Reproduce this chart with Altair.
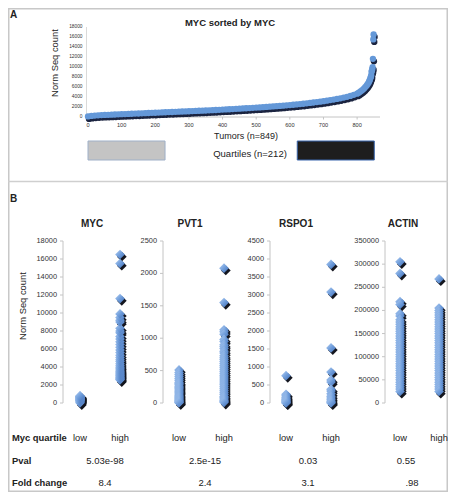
import altair as alt
import pandas as pd

FONT = "Liberation Sans"
W, H = 440, 484
OX, OY = 8, 8


def px(rx):
    return rx - OX


def py(ry):
    return ry - OY


# ---------------- data ----------------
# Panel A: MYC normalised counts, tumours sorted by MYC (sampled ranks)
tumor_rank = [0, 10, 20, 30, 40, 50, 60, 70, 80, 90,
              100, 110, 120, 130, 140, 150, 160, 170, 180, 190,
              200, 210, 220, 230, 240, 250, 260, 270, 280, 290,
              300, 310, 320, 330, 340, 350, 360, 370, 380, 390,
              400, 410, 420, 430, 440, 450, 460, 470, 480, 490,
              500, 510, 520, 530, 540, 550, 560, 570, 580, 590,
              600, 610, 620, 630, 640, 650, 660, 670, 680, 690,
              700, 710, 720, 730, 740, 750, 760, 770, 780, 790,
              800, 805, 810, 815, 820, 824, 828, 831, 834, 836,
              838, 840, 841, 842, 843, 844, 845, 846, 847, 848, 849]
myc_sorted = [20, 120, 190, 240, 280, 310, 340, 370, 400, 430,
              460, 490, 520, 550, 580, 610, 640, 670, 700, 730,
              760, 790, 820, 850, 880, 910, 940, 970, 1000, 1030,
              1060, 1090, 1120, 1150, 1180, 1210, 1240, 1280, 1310, 1350,
              1390, 1420, 1460, 1500, 1540, 1580, 1620, 1660, 1700, 1740,
              1790, 1830, 1880, 1920, 1970, 2020, 2070, 2120, 2180, 2240,
              2300, 2360, 2430, 2500, 2570, 2650, 2730, 2810, 2900, 2990,
              3090, 3190, 3300, 3410, 3530, 3660, 3800, 3960, 4140, 4350,
              4600, 4800, 5050, 5300, 5600, 5900, 6200, 6500, 6800, 7100,
              7400, 7800, 8000, 8300, 9000, 9200, 9500, 9900, 11600, 15500, 16500]
x_ticks_A = [0, 100, 200, 300, 400, 500, 600, 700, 800]
y_ticks_A = [0, 2000, 4000, 6000, 8000, 10000, 12000, 14000, 16000, 18000]
quartile_start = [0, 622]
quartile_end = [229, 851]
low_cut, high_cut = 212, 637

# Panel B
genes = ["MYC", "PVT1", "RSPO1", "ACTIN"]
pvt1_low = [510, 470, 440, 410, 380, 350, 320, 300, 280, 260, 240, 220, 200,
            180, 160, 140, 120, 100, 85, 70, 55, 40, 30, 20, 10, 5]
pvt1_high = [2080, 1550, 1130, 1100, 1060, 980, 950, 900, 870, 840, 800, 770,
             730, 700, 670, 640, 610, 580, 550, 520, 490, 460, 430, 400, 370,
             340, 310, 280, 250, 220, 190, 160, 130, 100, 80, 60, 40, 25, 10]
rspo1_low = [760, 240, 200, 160, 130, 100, 80, 60, 40, 25, 10, 0]
rspo1_high = [3850, 3080, 1530, 860, 640, 580, 380, 330, 260, 190, 140, 90,
              50, 20, 0]
actin_low = [305000, 280000, 219000, 213000, 193000, 188000, 180000, 175000,
             170000, 165000, 160000, 155000, 150000, 145000, 140000, 135000,
             130000, 125000, 120000, 115000, 110000, 105000, 100000, 95000,
             90000, 85000, 80000, 75000, 70000, 65000, 60000, 55000, 50000,
             45000, 40000, 35000, 30000, 25000]
actin_high = [268000, 205000, 200000, 195000, 190000, 185000, 180000, 175000,
              170000, 165000, 160000, 155000, 150000, 145000, 140000, 135000,
              130000, 125000, 120000, 115000, 110000, 105000, 100000, 95000,
              90000, 85000, 80000, 75000, 70000, 65000, 60000, 55000, 50000,
              45000, 40000, 35000, 30000, 25000]
y_max_B = [18000, 2500, 4500, 350000]
y_step_B = [2000, 500, 500, 50000]
pvals = ["5.03e-98", "2.5e-15", "0.03", "0.55"]
fold_changes = ["8.4", "2.4", "3.1", ".98"]

# ---------------- layout constants ----------------
title_x_B = [92, 190, 296, 403]
axis_x_B = [63, 163, 270, 385]
low_x_B = [80, 179, 286, 400]
high_x_B = [120, 224, 331, 439]
pval_x = [105, 205, 308, 406]
fc_x = [105, 205, 308, 412]
B_TOP, B_BOT = 241, 403
ROW_Q, ROW_P, ROW_F = 438, 461, 483
LEFT_TXT = 12

TXT = "#222222"
AXIS_C = "#c4c4c4"
BLUE_A = "#6498d8"
SHADOW = "#14161f"
diamond_grad = alt.LinearGradient(
    gradient="linear",
    stops=[alt.GradientStop(color="#b9d3f5", offset=0),
           alt.GradientStop(color="#6f9ddb", offset=0.5),
           alt.GradientStop(color="#3f6db5", offset=1)],
    x1=0, y1=0, x2=1, y2=1,
)

layers = []


def txt(text, rx, ry, size, bold=False, align="center", angle=0, color=TXT):
    kw = dict(font=FONT, fontSize=size, align=align, baseline="middle", color=color)
    if bold:
        kw["fontWeight"] = "bold"
    if angle:
        kw["angle"] = angle
    return alt.Chart(pd.DataFrame({"t": [text]})).mark_text(**kw).encode(
        x=alt.value(px(rx)), y=alt.value(py(ry)), text="t:N")


# ---------------- Panel A ----------------
dfA = pd.DataFrame({"rank": tumor_rank, "myc": myc_sorted})
xsA = alt.Scale(domain=[0, 868], range=[px(88), px(380)], nice=False, zero=False)
ysA = alt.Scale(domain=[0, 18000], range=[py(116.5), py(27)], nice=False, zero=False)

layers.append(txt("A", LEFT_TXT - 2, 15, 10, bold=True, align="left"))
layers.append(txt("MYC  sorted by MYC", 230, 22.5, 9.5, bold=True))

# axes A
layers.append(alt.Chart(pd.DataFrame({"a": [0], "b": [868]})).mark_rule(
    color=AXIS_C, strokeWidth=1).encode(
    x=alt.X("a:Q", scale=xsA, axis=None), x2="b:Q", y=alt.value(py(117))))
layers.append(alt.Chart(pd.DataFrame({"a": [0], "b": [18000]})).mark_rule(
    color="#dadada", strokeWidth=1).encode(
    y=alt.Y("a:Q", scale=ysA, axis=None), y2="b:Q", x=alt.value(px(86.5))))
dfXA = pd.DataFrame({"t": x_ticks_A})
layers.append(alt.Chart(dfXA).mark_rule(color=AXIS_C).encode(
    x=alt.X("t:Q", scale=xsA, axis=None), y=alt.value(py(117)), y2=alt.value(py(119.5))))
layers.append(alt.Chart(dfXA).mark_text(font=FONT, fontSize=5.6, color="#333333",
                                        baseline="middle").encode(
    x=alt.X("t:Q", scale=xsA, axis=None), y=alt.value(py(125)),
    text=alt.Text("t:Q", format="d")))
layers.append(alt.Chart(pd.DataFrame({"t": y_ticks_A})).mark_text(
    font=FONT, fontSize=4.8, color="#333333", align="right", baseline="middle").encode(
    y=alt.Y("t:Q", scale=ysA, axis=None), x=alt.value(px(82.5)),
    text=alt.Text("t:Q", format="d")))
layers.append(txt("Norm Seq count", 54.5, 63, 9.4, angle=270))
layers.append(txt("Tumors (n=849)", 246, 136, 9))

# scatter A (shadow then points)
baseA = alt.Chart(dfA).encode(
    x=alt.X("rank:Q", scale=xsA, axis=None),
    y=alt.Y("myc:Q", scale=ysA, axis=None))
layers.append(baseA.mark_circle(size=40, color="#1b2440", opacity=1, xOffset=1, yOffset=2.5))
layers.append(baseA.mark_circle(size=40, color=BLUE_A, opacity=1))

# quartile boxes
dfQ = pd.DataFrame({"start": quartile_start, "end": quartile_end, "q": ["low", "high"]})
for q, fill, stroke in [("low", "#c4c4c4", "#9fb0c8"), ("high", "#1e1e1e", "#3a66ad")]:
    layers.append(alt.Chart(dfQ).transform_filter(alt.datum.q == q).mark_rect(
        fill=fill, stroke=stroke, strokeWidth=1).encode(
        x=alt.X("start:Q", scale=xsA, axis=None), x2="end:Q",
        y=alt.value(py(141)), y2=alt.value(py(160))))
layers.append(txt("Quartiles (n=212)", 250, 154, 9.5))

# divider between A and B
layers.append(alt.Chart(pd.DataFrame({"d": [0]})).mark_rule(
    color="#cfcfcf", strokeWidth=1.6).encode(
    x=alt.value(0), x2=alt.value(W), y=alt.value(py(181.5))))

# ---------------- Panel B ----------------
layers.append(txt("B", LEFT_TXT - 2, 199, 10, bold=True, align="left"))

dfA_q = dfA.copy()
dfA_q["grp"] = ["low" if r <= low_cut else ("high" if r >= high_cut else "mid") for r in tumor_rank]
dfA_q = dfA_q[dfA_q["grp"] != "mid"]
gene_frames = [
    pd.DataFrame({"v": dfA_q["myc"].tolist(), "grp": dfA_q["grp"].tolist()}),
    pd.DataFrame({"v": pvt1_low + pvt1_high,
                  "grp": ["low"] * len(pvt1_low) + ["high"] * len(pvt1_high)}),
    pd.DataFrame({"v": rspo1_low + rspo1_high,
                  "grp": ["low"] * len(rspo1_low) + ["high"] * len(rspo1_high)}),
    pd.DataFrame({"v": actin_low + actin_high,
                  "grp": ["low"] * len(actin_low) + ["high"] * len(actin_high)}),
]

for i, gene in enumerate(genes):
    ymax = y_max_B[i]
    ticks = list(range(0, ymax + 1, y_step_B[i]))
    ys = alt.Scale(domain=[0, ymax], range=[py(B_BOT), py(B_TOP)], nice=False, zero=False)
    xs = alt.Scale(type="point", domain=["low", "high"],
                   range=[px(low_x_B[i]), px(high_x_B[i])], padding=0)
    ax = axis_x_B[i]
    layers.append(txt(gene, title_x_B[i], 224, 10, bold=True))
    # axis line, ticks, labels
    layers.append(alt.Chart(pd.DataFrame({"a": [0], "b": [ymax]})).mark_rule(
        color=AXIS_C, strokeWidth=1).encode(
        y=alt.Y("a:Q", scale=ys, axis=None), y2="b:Q", x=alt.value(px(ax))))
    dft = pd.DataFrame({"t": ticks})
    layers.append(alt.Chart(dft).mark_rule(color=AXIS_C, strokeWidth=1).encode(
        y=alt.Y("t:Q", scale=ys, axis=None), x=alt.value(px(ax - 3)), x2=alt.value(px(ax))))
    layers.append(alt.Chart(dft).mark_text(
        font=FONT, fontSize=7.4, color="#333333", align="right", baseline="middle").encode(
        y=alt.Y("t:Q", scale=ys, axis=None), x=alt.value(px(ax - 6)),
        text=alt.Text("t:Q", format="d")))
    # diamonds
    base = alt.Chart(gene_frames[i]).encode(
        x=alt.X("grp:N", scale=xs, axis=None),
        y=alt.Y("v:Q", scale=ys, axis=None))
    layers.append(base.mark_point(shape="diamond", filled=True, size=95, color=SHADOW,
                                  opacity=1, xOffset=1.8, yOffset=2.2))
    layers.append(base.mark_point(shape="diamond", filled=True, size=95, color=diamond_grad,
                                  opacity=1, strokeWidth=0))
    # low / high labels
    layers.append(alt.Chart(pd.DataFrame({"g": ["low", "high"]})).mark_text(
        font=FONT, fontSize=9.3, color=TXT, baseline="middle").encode(
        x=alt.X("g:N", scale=xs, axis=None), y=alt.value(py(ROW_Q)), text="g:N"))
    layers.append(txt(pvals[i], pval_x[i], ROW_P, 9.5))
    layers.append(txt(fold_changes[i], fc_x[i], ROW_F, 9.5))

layers.append(txt("Norm Seq count", 23, 306, 9.4, angle=270))
layers.append(txt("Myc quartile", LEFT_TXT, ROW_Q, 9.4, bold=True, align="left"))
layers.append(txt("Pval", LEFT_TXT, ROW_P, 9.4, bold=True, align="left"))
layers.append(txt("Fold change", LEFT_TXT, ROW_F, 9.4, bold=True, align="left"))

chart = alt.layer(*layers).resolve_scale(
    x="independent", y="independent"
).properties(
    width=W, height=H, padding=0,
    autosize=alt.AutoSizeParams(type="none"),
    background="white",
).configure_view(stroke="#c8c8c8", strokeWidth=3)

chart.save("out.html", embed_options={"renderer": "svg", "actions": False})
